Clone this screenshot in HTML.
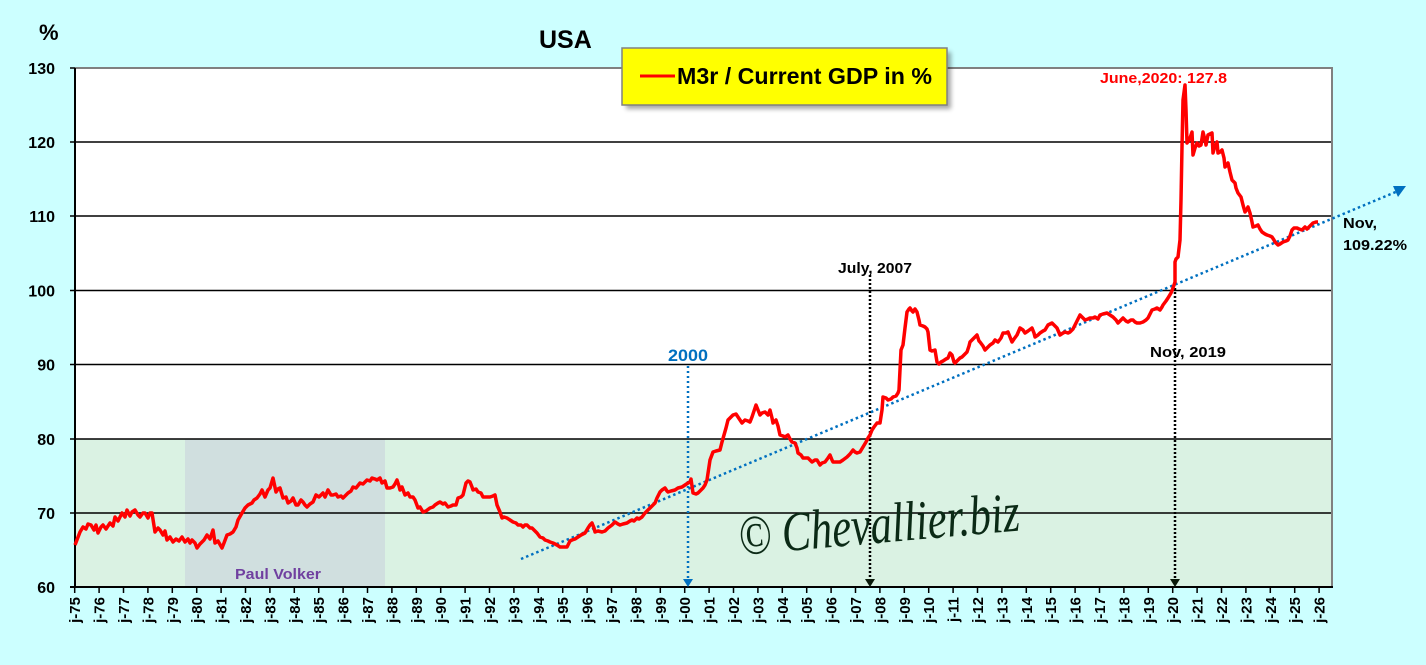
<!DOCTYPE html>
<html><head><meta charset="utf-8">
<style>
html,body{margin:0;padding:0;background:#ccffff;}
svg{display:block;}
text{font-family:"Liberation Sans",Arial,sans-serif;}
</style></head>
<body>
<svg width="1426" height="665" viewBox="0 0 1426 665" xmlns="http://www.w3.org/2000/svg">
<defs>
<filter id="sh" x="-10%" y="-20%" width="130%" height="160%"><feGaussianBlur stdDeviation="2.5"/></filter>
</defs>
<rect x="0" y="0" width="1426" height="665" fill="#ccffff"/>
<!-- plot area -->
<rect x="75" y="68" width="1257" height="519" fill="#ffffff"/>
<rect x="75" y="439" width="1257" height="148" fill="#daf2e3"/>
<rect x="185" y="439" width="200" height="148" fill="#d0dfdf"/>
<!-- gridlines -->
<g stroke="#000" stroke-width="1.5">
<line x1="70" y1="142" x2="1332" y2="142"/>
<line x1="70" y1="216" x2="1332" y2="216"/>
<line x1="70" y1="290.5" x2="1332" y2="290.5"/>
<line x1="70" y1="364.5" x2="1332" y2="364.5"/>
<line x1="70" y1="439" x2="1332" y2="439"/>
<line x1="70" y1="513" x2="1332" y2="513"/>
<line x1="70" y1="68" x2="75" y2="68"/>
</g>
<line x1="75" y1="68" x2="1333" y2="68" stroke="#808080" stroke-width="2"/>
<line x1="1332" y1="68" x2="1332" y2="588" stroke="#808080" stroke-width="2"/>
<line x1="75" y1="68" x2="75" y2="588" stroke="#000" stroke-width="2"/>
<line x1="70" y1="587" x2="1333" y2="587" stroke="#000" stroke-width="2"/>
<!-- y labels -->
<g font-size="16" font-weight="bold" fill="#000" text-anchor="end">
<text x="55" y="74">130</text>
<text x="55" y="148">120</text>
<text x="55" y="222">110</text>
<text x="55" y="296.5">100</text>
<text x="55" y="370.5">90</text>
<text x="55" y="445">80</text>
<text x="55" y="519">70</text>
<text x="55" y="593">60</text>
</g>
<text x="39" y="40" font-size="22" font-weight="bold">%</text>
<text x="539" y="48" font-size="25" font-weight="bold">USA</text>
<!-- x ticks -->
<g stroke="#000" stroke-width="1.5">
<line x1="74.7" y1="587" x2="74.7" y2="593"/><line x1="99.1" y1="587" x2="99.1" y2="593"/><line x1="123.5" y1="587" x2="123.5" y2="593"/><line x1="147.9" y1="587" x2="147.9" y2="593"/><line x1="172.3" y1="587" x2="172.3" y2="593"/><line x1="196.7" y1="587" x2="196.7" y2="593"/><line x1="221.1" y1="587" x2="221.1" y2="593"/><line x1="245.5" y1="587" x2="245.5" y2="593"/><line x1="269.9" y1="587" x2="269.9" y2="593"/><line x1="294.3" y1="587" x2="294.3" y2="593"/><line x1="318.7" y1="587" x2="318.7" y2="593"/><line x1="343.1" y1="587" x2="343.1" y2="593"/><line x1="367.5" y1="587" x2="367.5" y2="593"/><line x1="391.9" y1="587" x2="391.9" y2="593"/><line x1="416.3" y1="587" x2="416.3" y2="593"/><line x1="440.7" y1="587" x2="440.7" y2="593"/><line x1="465.1" y1="587" x2="465.1" y2="593"/><line x1="489.5" y1="587" x2="489.5" y2="593"/><line x1="513.9" y1="587" x2="513.9" y2="593"/><line x1="538.3" y1="587" x2="538.3" y2="593"/><line x1="562.7" y1="587" x2="562.7" y2="593"/><line x1="587.1" y1="587" x2="587.1" y2="593"/><line x1="611.5" y1="587" x2="611.5" y2="593"/><line x1="635.9" y1="587" x2="635.9" y2="593"/><line x1="660.3" y1="587" x2="660.3" y2="593"/><line x1="684.7" y1="587" x2="684.7" y2="593"/><line x1="709.1" y1="587" x2="709.1" y2="593"/><line x1="733.5" y1="587" x2="733.5" y2="593"/><line x1="757.9" y1="587" x2="757.9" y2="593"/><line x1="782.3" y1="587" x2="782.3" y2="593"/><line x1="806.7" y1="587" x2="806.7" y2="593"/><line x1="831.1" y1="587" x2="831.1" y2="593"/><line x1="855.5" y1="587" x2="855.5" y2="593"/><line x1="879.9" y1="587" x2="879.9" y2="593"/><line x1="904.3" y1="587" x2="904.3" y2="593"/><line x1="928.7" y1="587" x2="928.7" y2="593"/><line x1="953.1" y1="587" x2="953.1" y2="593"/><line x1="977.5" y1="587" x2="977.5" y2="593"/><line x1="1001.9" y1="587" x2="1001.9" y2="593"/><line x1="1026.3" y1="587" x2="1026.3" y2="593"/><line x1="1050.7" y1="587" x2="1050.7" y2="593"/><line x1="1075.1" y1="587" x2="1075.1" y2="593"/><line x1="1099.5" y1="587" x2="1099.5" y2="593"/><line x1="1123.9" y1="587" x2="1123.9" y2="593"/><line x1="1148.3" y1="587" x2="1148.3" y2="593"/><line x1="1172.7" y1="587" x2="1172.7" y2="593"/><line x1="1197.1" y1="587" x2="1197.1" y2="593"/><line x1="1221.5" y1="587" x2="1221.5" y2="593"/><line x1="1245.9" y1="587" x2="1245.9" y2="593"/><line x1="1270.3" y1="587" x2="1270.3" y2="593"/><line x1="1294.7" y1="587" x2="1294.7" y2="593"/><line x1="1319.1" y1="587" x2="1319.1" y2="593"/>
</g>
<!-- x labels -->
<g font-size="15" font-weight="bold" fill="#000" text-anchor="end">
<text transform="translate(80.2,597) rotate(-90)">j-75</text>
<text transform="translate(104.6,597) rotate(-90)">j-76</text>
<text transform="translate(129,597) rotate(-90)">j-77</text>
<text transform="translate(153.4,597) rotate(-90)">j-78</text>
<text transform="translate(177.8,597) rotate(-90)">j-79</text>
<text transform="translate(202.2,597) rotate(-90)">j-80</text>
<text transform="translate(226.6,597) rotate(-90)">j-81</text>
<text transform="translate(251,597) rotate(-90)">j-82</text>
<text transform="translate(275.4,597) rotate(-90)">j-83</text>
<text transform="translate(299.8,597) rotate(-90)">j-84</text>
<text transform="translate(324.2,597) rotate(-90)">j-85</text>
<text transform="translate(348.6,597) rotate(-90)">j-86</text>
<text transform="translate(373,597) rotate(-90)">j-87</text>
<text transform="translate(397.4,597) rotate(-90)">j-88</text>
<text transform="translate(421.8,597) rotate(-90)">j-89</text>
<text transform="translate(446.2,597) rotate(-90)">j-90</text>
<text transform="translate(470.6,597) rotate(-90)">j-91</text>
<text transform="translate(495,597) rotate(-90)">j-92</text>
<text transform="translate(519.4,597) rotate(-90)">j-93</text>
<text transform="translate(543.8,597) rotate(-90)">j-94</text>
<text transform="translate(568.2,597) rotate(-90)">j-95</text>
<text transform="translate(592.6,597) rotate(-90)">j-96</text>
<text transform="translate(617,597) rotate(-90)">j-97</text>
<text transform="translate(641.4,597) rotate(-90)">j-98</text>
<text transform="translate(665.8,597) rotate(-90)">j-99</text>
<text transform="translate(690.2,597) rotate(-90)">j-00</text>
<text transform="translate(714.6,597) rotate(-90)">j-01</text>
<text transform="translate(739,597) rotate(-90)">j-02</text>
<text transform="translate(763.4,597) rotate(-90)">j-03</text>
<text transform="translate(787.8,597) rotate(-90)">j-04</text>
<text transform="translate(812.2,597) rotate(-90)">j-05</text>
<text transform="translate(836.6,597) rotate(-90)">j-06</text>
<text transform="translate(861,597) rotate(-90)">j-07</text>
<text transform="translate(885.4,597) rotate(-90)">j-08</text>
<text transform="translate(909.8,597) rotate(-90)">j-09</text>
<text transform="translate(934.2,597) rotate(-90)">j-10</text>
<text transform="translate(958.6,597) rotate(-90)">j-11</text>
<text transform="translate(983,597) rotate(-90)">j-12</text>
<text transform="translate(1007.4,597) rotate(-90)">j-13</text>
<text transform="translate(1031.8,597) rotate(-90)">j-14</text>
<text transform="translate(1056.2,597) rotate(-90)">j-15</text>
<text transform="translate(1080.6,597) rotate(-90)">j-16</text>
<text transform="translate(1105,597) rotate(-90)">j-17</text>
<text transform="translate(1129.4,597) rotate(-90)">j-18</text>
<text transform="translate(1153.8,597) rotate(-90)">j-19</text>
<text transform="translate(1178.2,597) rotate(-90)">j-20</text>
<text transform="translate(1202.6,597) rotate(-90)">j-21</text>
<text transform="translate(1227,597) rotate(-90)">j-22</text>
<text transform="translate(1251.4,597) rotate(-90)">j-23</text>
<text transform="translate(1275.8,597) rotate(-90)">j-24</text>
<text transform="translate(1300.2,597) rotate(-90)">j-25</text>
<text transform="translate(1324.6,597) rotate(-90)">j-26</text>
</g>
<!-- Paul Volker -->
<text x="235" y="579" font-size="14.5" font-weight="bold" fill="#7040a0" textLength="86" lengthAdjust="spacingAndGlyphs">Paul Volker</text>
<!-- watermark -->
<text transform="translate(740,555) rotate(-5)" style="font-family:'Liberation Serif','DejaVu Serif',serif;font-style:italic;font-size:56px;" fill="#0b2a16" textLength="282" lengthAdjust="spacingAndGlyphs">© Chevallier.biz</text>
<!-- vertical markers -->
<line x1="688" y1="366" x2="688" y2="580" stroke="#0070c0" stroke-width="2.5" stroke-dasharray="2,3"/>
<polygon points="683,579 693,579 688,587" fill="#0070c0"/>
<line x1="870" y1="275" x2="870" y2="580" stroke="#000" stroke-width="2.5" stroke-dasharray="2,2"/>
<polygon points="865,579 875,579 870,587" fill="#0a1a0a"/>
<line x1="1175" y1="288" x2="1175" y2="580" stroke="#000" stroke-width="2.5" stroke-dasharray="2,2"/>
<polygon points="1170,579 1180,579 1175,587" fill="#0a1a0a"/>
<!-- trend line -->
<line x1="521" y1="559" x2="1398" y2="191" stroke="#0070c0" stroke-width="2.5" stroke-dasharray="2.5,3"/>
<polygon points="1406,186 1393,186 1398,197" fill="#0070c0"/>
<!-- series -->
<polyline fill="none" stroke="#ff0000" stroke-width="3.5" stroke-linejoin="round" points="75,545 80,532 83,527 86,529 88,524 91,525 94,530 96,525 98,533 101,527 103,525 106,529 110,523 113,526 115,517 118,521 122,513 125,517 127,510 130,516 132,512 135,510 138,515 140,517 143,513 145,513 148,518 150,513 152,513 155,532 158,528 160,530 163,535 165,531 167,540 170,537 173,542 176,539 179,541 182,537 185,542 188,539 190,543 192,540 195,543 197,548 200,544 204,540 207,535 210,539 213,530 215,543 218,541 222,548 224,543 227,535 230,534 233,532 236,527 238,520 242,513 245,508 248,505 252,503 254,500 257,498 260,494 262,490 265,497 268,490 270,488 273,478 276,492 278,489 280,488 283,498 286,497 288,503 291,501 293,498 296,505 298,505 301,500 303,502 305,505 307,507 310,504 313,502 316,495 319,497 323,493 325,497 328,490 331,495 333,495 336,494 338,497 341,496 343,498 346,495 348,493 351,491 353,487 356,488 360,483 363,484 367,480 370,481 372,478 375,479 377,480 380,478 382,483 385,481 387,488 390,488 393,487 395,484 397,480 399,486 400,490 402,487 405,495 408,493 410,497 413,497 415,500 418,508 420,507 423,512 426,511 430,508 433,507 435,505 438,503 440,502 443,504 445,503 448,507 451,506 453,505 456,505 458,498 461,497 463,495 466,483 468,481 470,482 472,487 473,490 476,489 478,492 481,493 483,497 486,497 490,497 493,496 495,495 497,505 500,512 502,518 504,517 507,518 510,520 513,522 516,523 518,525 521,525 523,527 525,525 527,525 530,528 532,528 535,531 537,533 540,537 543,538 545,540 548,541 550,542 553,543 557,545 560,547 564,547 567,547 570,541 572,540 575,539 578,537 581,535 585,533 588,528 590,525 592,523 594,528 595,532 598,531 602,532 605,531 608,528 612,525 615,522 618,524 620,525 623,524 627,523 630,521 632,520 634,521 637,518 639,519 642,517 645,513 648,510 651,507 655,503 657,498 660,492 662,490 665,488 667,491 668,492 671,491 675,490 678,488 682,487 685,485 688,483 690,482 691,479 693,493 696,494 698,493 701,490 703,488 705,485 707,480 710,460 713,452 716,451 720,450 722,442 724,435 726,428 728,420 731,417 733,415 736,414 738,417 740,420 742,423 745,420 748,421 750,422 752,417 754,411 756,405 758,410 760,415 762,413 765,412 768,415 770,410 772,418 773,423 776,420 778,426 780,435 783,436 785,437 788,435 790,439 792,442 795,443 797,448 798,453 801,455 803,458 806,458 808,458 810,460 812,462 815,460 817,460 820,465 822,463 825,462 828,458 830,455 832,460 833,462 837,462 840,462 843,460 847,457 850,454 853,450 855,452 857,453 860,452 863,447 866,442 868,438 870,435 872,430 874,427 877,423 880,423 882,410 883,397 886,398 888,400 891,399 893,397 896,396 898,393 899,390 900,370 901,350 903,345 905,328 907,312 909,309 910,308 912,311 913,312 915,309 917,312 919,320 920,325 923,326 925,327 927,329 928,332 930,350 932,351 935,350 937,362 939,364 941,362 943,361 946,359 948,358 950,353 952,355 954,362 955,363 957,361 960,358 962,357 964,355 967,352 969,346 970,342 973,339 977,335 979,341 980,342 983,346 985,350 988,347 990,345 993,343 995,340 998,342 1001,338 1003,333 1006,333 1008,332 1010,337 1012,342 1014,339 1017,335 1020,328 1023,330 1025,333 1028,331 1032,328 1034,333 1035,337 1038,335 1040,333 1043,331 1045,330 1048,325 1050,324 1052,323 1055,326 1057,328 1060,335 1063,333 1065,332 1068,333 1070,332 1073,329 1075,325 1078,319 1080,315 1083,318 1085,320 1088,319 1090,318 1093,318 1095,317 1098,319 1100,315 1103,314 1107,313 1110,315 1113,317 1116,320 1118,323 1121,320 1123,318 1126,321 1128,322 1131,320 1133,320 1135,322 1137,323 1140,323 1143,322 1146,320 1148,318 1150,314 1152,310 1155,309 1157,308 1160,310 1162,307 1163,305 1166,301 1168,298 1171,293 1173,288 1175,282 1175,262 1176,259 1178,257 1180,240 1181,200 1182,147 1183,100 1185,85 1186,110 1187,143 1189,140 1190,138 1192,132 1193,155 1195,148 1197,143 1199,146 1201,145 1203,132 1205,140 1206,145 1208,135 1210,134 1212,133 1213,153 1215,146 1217,142 1218,153 1220,152 1222,150 1224,158 1225,167 1227,165 1228,163 1230,172 1232,180 1235,183 1236,188 1238,193 1241,197 1243,205 1245,212 1247,209 1248,207 1250,213 1252,222 1253,227 1256,226 1258,225 1260,229 1262,232 1265,234 1267,235 1270,236 1272,237 1274,240 1275,242 1277,244 1278,245 1280,244 1283,242 1286,241 1288,240 1290,236 1292,230 1294,228 1297,228 1299,229 1302,230 1304,228 1305,227 1307,229 1308,228 1311,225 1313,223 1316,222 1318,222"/>
<!-- annotations -->
<text x="668" y="361" font-size="17" font-weight="bold" fill="#0070c0" textLength="40" lengthAdjust="spacingAndGlyphs">2000</text>
<text x="838" y="273" font-size="15" font-weight="bold" fill="#000" textLength="74" lengthAdjust="spacingAndGlyphs">July, 2007</text>
<text x="1150" y="357" font-size="15" font-weight="bold" fill="#000" textLength="76" lengthAdjust="spacingAndGlyphs">Nov, 2019</text>
<text x="1100" y="83" font-size="15" font-weight="bold" fill="#ff0000" textLength="127" lengthAdjust="spacingAndGlyphs">June,2020: 127.8</text>
<text x="1343" y="228" font-size="15" font-weight="bold" fill="#000" textLength="34" lengthAdjust="spacingAndGlyphs">Nov,</text>
<text x="1343" y="250" font-size="15" font-weight="bold" fill="#000" textLength="64" lengthAdjust="spacingAndGlyphs">109.22%</text>
<!-- legend -->
<rect x="626" y="52" width="325" height="57" fill="#000" opacity="0.35" filter="url(#sh)"/>
<rect x="622" y="48" width="325" height="57" fill="#ffff00" stroke="#808080" stroke-width="1.5"/>
<line x1="640" y1="76" x2="675" y2="76" stroke="#ff0000" stroke-width="3"/>
<text x="677" y="84" font-size="23" font-weight="bold" fill="#000" textLength="255" lengthAdjust="spacingAndGlyphs">M3r / Current GDP in %</text>
</svg>
</body></html>
